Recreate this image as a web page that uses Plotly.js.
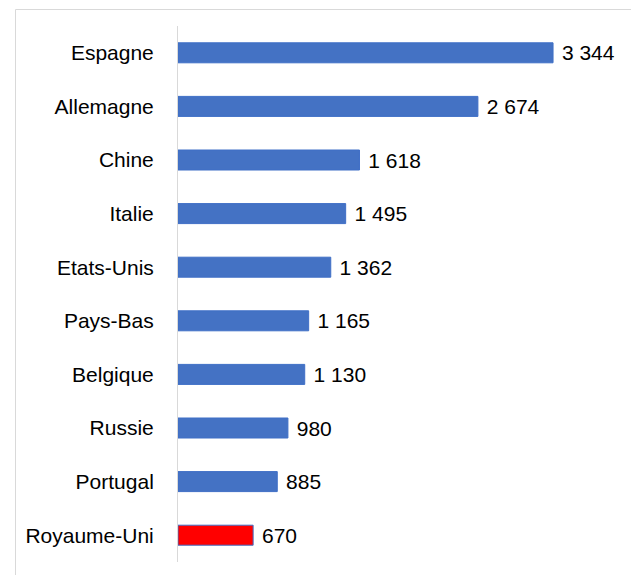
<!DOCTYPE html>
<html>
<head>
<meta charset="utf-8">
<script src="https://cdn.plot.ly/plotly-3.0.1.min.js"></script>
<style>html,body{margin:0;padding:0;background:#fff;}#chart{width:631px;height:575px;}</style>
</head>
<body>
<div id="chart"></div>
<script>
const countries = ["Espagne", "Allemagne", "Chine", "Italie", "Etats-Unis", "Pays-Bas", "Belgique", "Russie", "Portugal", "Royaume-Uni"];
const deaths = [3344, 2674, 1618, 1495, 1362, 1165, 1130, 980, 885, 670];
const barColors = ["#4472c4", "#4472c4", "#4472c4", "#4472c4", "#4472c4", "#4472c4", "#4472c4", "#4472c4", "#4472c4", "#ff0000"];

function fmt(v) {
  return "\u00a0" + String(v).replace(/\B(?=(\d{3})+(?!\d))/g, " ");
}

const trace = {
  type: "bar",
  orientation: "h",
  y: countries,
  x: deaths,
  text: deaths.map(fmt),
  textposition: "outside",
  constraintext: "none",
  cliponaxis: false,
  textfont: {family: "Liberation Sans, Arial, sans-serif", size: 21, color: "#000"},
  width: 0.373,
  marker: {color: barColors, line: {color: "#3f6fc6", width: 1}},
  hoverinfo: "none"
};

const layout = {
  width: 631, height: 575,
  margin: {l: 178, r: 11, t: 26, b: 13, pad: 0},
  paper_bgcolor: "#fff", plot_bgcolor: "#fff",
  showlegend: false,
  font: {family: "Liberation Sans, Arial, sans-serif", size: 21, color: "#000"},
  xaxis: {range: [0, 3941], visible: false, fixedrange: true},
  yaxis: {
    autorange: "reversed",
    showline: true, linecolor: "#d9d9d9", linewidth: 1,
    ticks: "", showgrid: false, zeroline: false,
    ticklabelstandoff: 19,
    tickfont: {family: "Liberation Sans, Arial, sans-serif", size: 21, color: "#000"}
  },
  shapes: [{
    type: "rect", xref: "paper", yref: "paper",
    x0: -0.3676, x1: 2, y0: -1, y1: 1.0308,
    line: {color: "#d9d9d9", width: 1}, fillcolor: "rgba(0,0,0,0)", layer: "below"
  }]
};

Plotly.newPlot("chart", [trace], layout, {staticPlot: true, displayModeBar: false});
</script>
</body>
</html>
